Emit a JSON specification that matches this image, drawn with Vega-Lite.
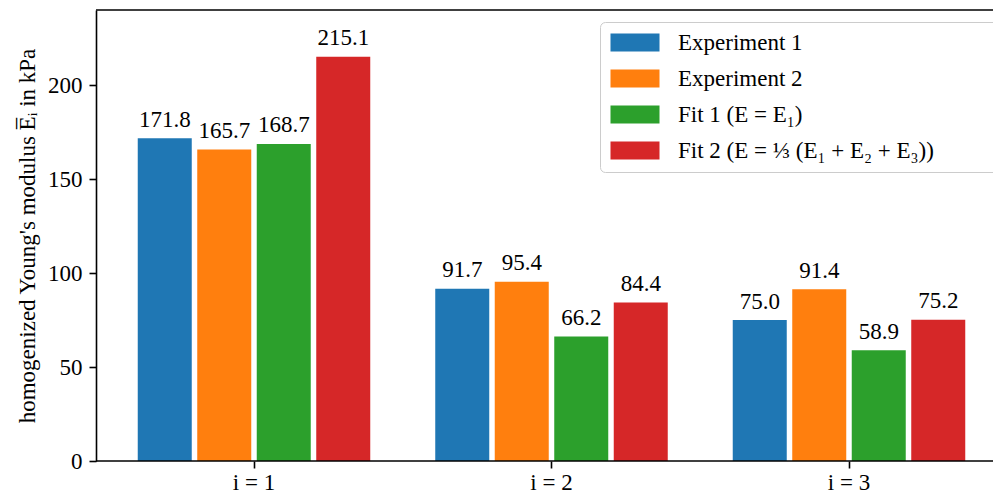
{
  "$schema": "https://vega.github.io/schema/vega-lite/v6.json",
  "width": 897,
  "height": 451,
  "autosize": {"type": "none"},
  "padding": {"left": 96, "top": 10, "right": 0, "bottom": 35},
  "config": {
    "font": "Liberation Serif",
    "view": {"stroke": null},
    "axis": {"labelFont": "Liberation Serif", "titleFont": "Liberation Serif", "labelColor": "#000", "tickColor": "#000", "domainColor": "#000", "grid": false},
    "legend": {"labelFont": "Liberation Serif", "titleFont": "Liberation Serif"},
    "text": {"font": "Liberation Serif"}
  },
  "data": {
    "values": [
      {"group": "i = 1", "series": "Experiment 1", "value": 171.8},
      {"group": "i = 1", "series": "Experiment 2", "value": 165.7},
      {"group": "i = 1", "series": "Fit 1 (E = E₁)", "value": 168.7},
      {"group": "i = 1", "series": "Fit 2 (E = ⅓ (E₁ + E₂ + E₃))", "value": 215.1},
      {"group": "i = 2", "series": "Experiment 1", "value": 91.7},
      {"group": "i = 2", "series": "Experiment 2", "value": 95.4},
      {"group": "i = 2", "series": "Fit 1 (E = E₁)", "value": 66.2},
      {"group": "i = 2", "series": "Fit 2 (E = ⅓ (E₁ + E₂ + E₃))", "value": 84.4},
      {"group": "i = 3", "series": "Experiment 1", "value": 75.0},
      {"group": "i = 3", "series": "Experiment 2", "value": 91.4},
      {"group": "i = 3", "series": "Fit 1 (E = E₁)", "value": 58.9},
      {"group": "i = 3", "series": "Fit 2 (E = ⅓ (E₁ + E₂ + E₃))", "value": 75.2}
    ]
  },
  "layer": [
    {
      "mark": {"type": "bar", "opacity": 1},
      "encoding": {
        "x": {
          "field": "group", "type": "nominal", "sort": ["i = 1", "i = 2", "i = 3"],
          "scale": {"range": [9.25, 901.75], "paddingInner": 0, "paddingOuter": 0},
          "axis": {"title": null, "domain": false, "ticks": true, "tickSize": 7, "tickWidth": 1.6, "labelAngle": 0, "labelFontSize": 23, "labelPadding": 3}
        },
        "xOffset": {
          "field": "series", "type": "nominal",
          "sort": ["Experiment 1", "Experiment 2", "Fit 1 (E = E₁)", "Fit 2 (E = ⅓ (E₁ + E₂ + E₃))"],
          "scale": {"paddingInner": 0.0924, "paddingOuter": 0.5462}
        },
        "y": {
          "field": "value", "type": "quantitative",
          "scale": {"domain": [0, 240], "nice": false, "zero": true},
          "axis": {
            "title": "homogenized Young's modulus E̅ᵢ in kPa",
            "titleFontSize": 23, "titleFontWeight": "normal", "titleColor": "#000", "titlePadding": 8,
            "values": [0, 50, 100, 150, 200], "tickSize": 7, "tickWidth": 1.6, "domainWidth": 1.6,
            "labelFontSize": 23, "labelPadding": 7
          }
        },
        "color": {
          "field": "series", "type": "nominal",
          "sort": ["Experiment 1", "Experiment 2", "Fit 1 (E = E₁)", "Fit 2 (E = ⅓ (E₁ + E₂ + E₃))"],
          "scale": {"range": ["#1f77b4", "#ff7f0e", "#2ca02c", "#d62728"]},
          "legend": {
            "title": " ", "titleOrient": "right", "titlePadding": 64, "titleFontSize": 10,
            "orient": "none", "legendX": 504, "legendY": 12,
            "symbolType": "M-1,-0.9H3.9V0.9H-1Z", "symbolSize": 400, "symbolStrokeWidth": 0, "symbolOpacity": 1,
            "labelFontSize": 23, "labelColor": "#000", "labelOffset": 46, "labelLimit": 400,
            "rowPadding": 12, "padding": 9,
            "fillColor": "rgba(255,255,255,0.8)", "strokeColor": "#cccccc", "cornerRadius": 5
          }
        }
      }
    },
    {
      "mark": {"type": "text", "baseline": "alphabetic", "align": "center", "dy": -11.5, "fontSize": 23, "color": "#000", "font": "Liberation Serif"},
      "encoding": {
        "x": {"field": "group", "type": "nominal", "sort": ["i = 1", "i = 2", "i = 3"]},
        "xOffset": {"field": "series", "type": "nominal", "sort": ["Experiment 1", "Experiment 2", "Fit 1 (E = E₁)", "Fit 2 (E = ⅓ (E₁ + E₂ + E₃))"]},
        "y": {"field": "value", "type": "quantitative"},
        "text": {"field": "value", "type": "quantitative", "format": ".1f"}
      }
    },
    {
      "data": {"values": [{}]},
      "mark": {"type": "rule", "color": "#000", "strokeWidth": 1.6},
      "encoding": {"y": {"datum": 0}}
    },
    {
      "data": {"values": [{}]},
      "mark": {"type": "rule", "color": "#000", "strokeWidth": 1.6},
      "encoding": {"y": {"datum": 240}}
    }
  ]
}
